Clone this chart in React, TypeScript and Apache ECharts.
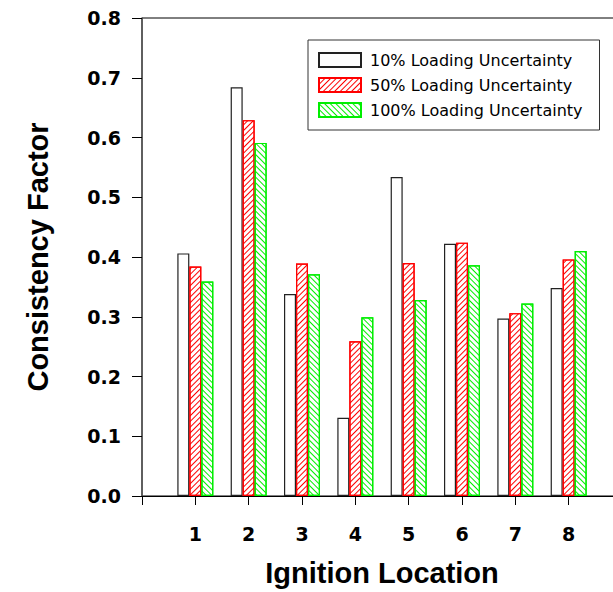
import React, { useEffect, useRef } from "react";
import * as echarts from "echarts";

const locations = [1, 2, 3, 4, 5, 6, 7, 8];
const seriesNames = [
  "10% Loading Uncertainty",
  "50% Loading Uncertainty",
  "100% Loading Uncertainty",
];
const load10 = [0.406, 0.684, 0.338, 0.131, 0.534, 0.422, 0.297, 0.348];
const load50 = [0.384, 0.629, 0.389, 0.259, 0.39, 0.424, 0.306, 0.396];
const load100 = [0.359, 0.591, 0.371, 0.299, 0.328, 0.386, 0.322, 0.41];
const yTicks = [0, 0.1, 0.2, 0.3, 0.4, 0.5, 0.6, 0.7, 0.8];

const LABEL_FONT = "DejaVu Sans";
const TITLE_FONT = "Liberation Sans";

export default function App() {
  const ref = useRef<HTMLDivElement>(null);
  useEffect(() => {
    if (!ref.current) return;
    const chart = echarts.init(ref.current, undefined, { renderer: "svg" });
    const pair = (vals: number[]) => locations.map((x, i) => [x, vals[i]]);
    const option: any = {
      animation: false,
      backgroundColor: "#ffffff",
      grid: {
        left: 142,
        top: 18,
        width: 480,
        bottom: 94,
        show: true,
        borderColor: "#000",
        borderWidth: 1,
        backgroundColor: "transparent",
      },
      legend: {
        orient: "vertical",
        left: 308,
        top: 40,
        padding: [12, 17, 12, 10],
        borderColor: "#333",
        borderWidth: 1,
        itemWidth: 42,
        itemHeight: 14,
        itemGap: 9,
        icon: "rect",
        textStyle: {
          fontFamily: LABEL_FONT,
          fontSize: 16,
          color: "#000",
          lineHeight: 14,
          padding: [0, 0, 0, 4],
        },
        data: seriesNames,
      },
      xAxis: {
        type: "value",
        min: 0,
        max: 9,
        interval: 1,
        name: "Ignition Location",
        nameLocation: "middle",
        nameGap: 62,
        nameTextStyle: {
          fontFamily: TITLE_FONT,
          fontWeight: "bold",
          fontSize: 29,
          color: "#000",
        },
        axisLine: { show: true, lineStyle: { color: "#000", width: 1 } },
        axisTick: { show: true, inside: false, length: 9, lineStyle: { color: "#000" } },
        axisLabel: {
          margin: 28,
          fontFamily: LABEL_FONT,
          fontWeight: "bold",
          fontSize: 19,
          color: "#000",
          formatter: (v: number) => (locations.indexOf(v) >= 0 ? String(v) : ""),
        },
        splitLine: { show: false },
      },
      yAxis: {
        type: "value",
        min: 0,
        max: 0.8,
        interval: 0.1,
        name: "Consistency Factor",
        nameLocation: "middle",
        nameGap: 90,
        nameTextStyle: {
          fontFamily: TITLE_FONT,
          fontWeight: "bold",
          fontSize: 29,
          color: "#000",
        },
        axisLine: { show: true, lineStyle: { color: "#555", width: 1.5 } },
        axisTick: { show: true, inside: false, length: 10, lineStyle: { color: "#000" } },
        axisLabel: {
          margin: 21,
          fontFamily: LABEL_FONT,
          fontWeight: "bold",
          fontSize: 19,
          color: "#000",
          formatter: (v: number) => {
            const t = yTicks.find((k) => Math.abs(k - v) < 1e-9);
            return t === undefined ? "" : t.toFixed(1);
          },
        },
        splitLine: { show: false },
      },
      series: [
        {
          name: seriesNames[0],
          type: "bar",
          barWidth: 12,
          barGap: "0%",
          data: pair(load10),
          itemStyle: { color: "#ffffff", borderColor: "#222", borderWidth: 1.2 },
        },
        {
          name: seriesNames[1],
          type: "bar",
          barWidth: 12,
          barGap: "0%",
          data: pair(load50),
          itemStyle: {
            color: "#ffffff",
            borderColor: "#ff0000",
            borderWidth: 1.2,
            decal: {
              symbol: "rect",
              symbolSize: 1,
              color: "#ff0000",
              dashArrayX: [1, 0],
              dashArrayY: [1, 3],
              rotation: -Math.PI / 4,
            },
          },
        },
        {
          name: seriesNames[2],
          type: "bar",
          barWidth: 12,
          barGap: "0%",
          data: pair(load100),
          itemStyle: {
            color: "#ffffff",
            borderColor: "#00ee00",
            borderWidth: 1.2,
            decal: {
              symbol: "rect",
              symbolSize: 1,
              color: "#00ee00",
              dashArrayX: [1, 0],
              dashArrayY: [1, 3],
              rotation: Math.PI / 4,
            },
          },
        },
      ],
    };
    chart.setOption(option);
    return () => chart.dispose();
  }, []);
  return (
    <div
      style={{
        position: "fixed",
        left: 0,
        top: 0,
        width: 613,
        height: 592,
        overflow: "hidden",
        background: "#fff",
      }}
    >
      <div ref={ref} style={{ width: 640, height: 592 }} />
    </div>
  );
}
